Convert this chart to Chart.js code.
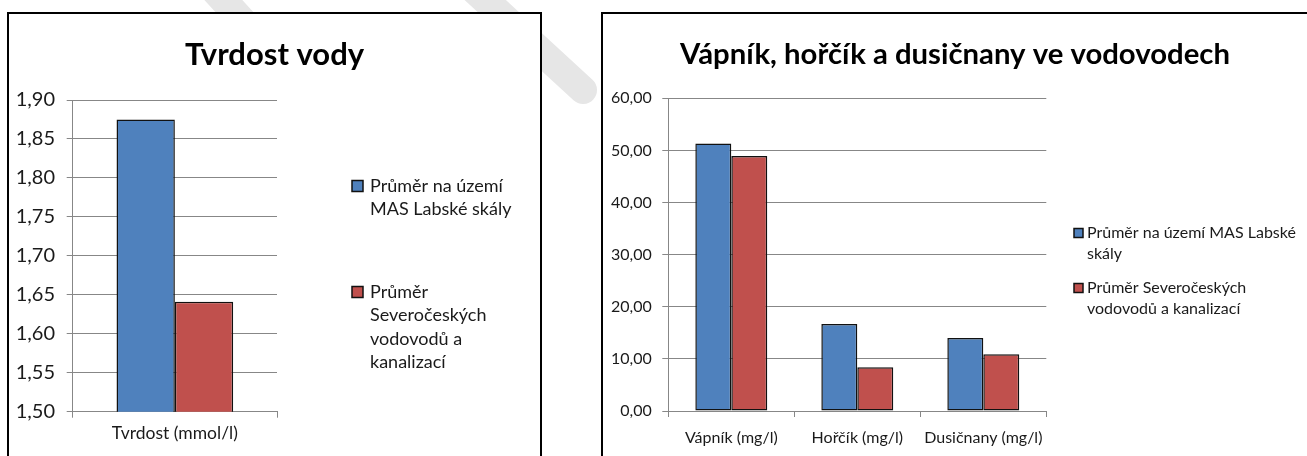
<!DOCTYPE html>
<html>
<head>
<meta charset="utf-8">
<script src="https://cdn.jsdelivr.net/npm/chart.js@4.4.1/dist/chart.umd.min.js"></script>
<style>
  html, body { margin: 0; padding: 0; background: #fff; width: 1307px; height: 456px; overflow: hidden; position: relative; }
  .mark { position: absolute; left: 0; top: 0; z-index: 0; }
  .panel { position: absolute; box-sizing: border-box; border: 2px solid #000; background: #fff; z-index: 1; }
  #boxA { left: 7px; top: 12px; width: 535px; height: 470px; }
  #boxB { left: 601px; top: 12px; width: 730px; height: 470px; }
  canvas { display: block; }
</style>
</head>
<body>
<svg class="mark" width="1307" height="456">
  <g stroke="#e6e6e6" stroke-width="28" stroke-linecap="round">
    <line x1="470" y1="-14" x2="583" y2="90"/>
    <line x1="205" y1="-20" x2="260" y2="40"/>
  </g>
</svg>
<div class="panel" id="boxA"><canvas id="hardness" width="531" height="442"></canvas></div>
<div class="panel" id="boxB"><canvas id="minerals" width="704" height="442"></canvas></div>
<script>
// Series shared by both charts
const seriesNames = ['Průměr na území MAS Labské skály', 'Průměr Severočeských vodovodů a kanalizací'];
const seriesColors = ['#4F81BD', '#C0504D'];

// Water hardness
const hardnessCategories = ['Tvrdost (mmol/l)'];
const hardnessMas = [1.875];
const hardnessSvs = [1.641];
const hardnessTicks = [1.50, 1.55, 1.60, 1.65, 1.70, 1.75, 1.80, 1.85, 1.90];
const hardnessTickLabels = ['1,50', '1,55', '1,60', '1,65', '1,70', '1,75', '1,80', '1,85', '1,90'];

// Calcium, magnesium and nitrates
const mineralCategories = ['Vápník (mg/l)', 'Hořčík (mg/l)', 'Dusičnany (mg/l)'];
const mineralMas = [51.3, 16.7, 14.0];
const mineralSvs = [48.9, 8.4, 10.9];
const mineralTicks = [0, 10, 20, 30, 40, 50, 60];
const mineralTickLabels = ['0,00', '10,00', '20,00', '30,00', '40,00', '50,00', '60,00'];

const FONT = 'Lato';
const GRID = '#878787';
const INK = '#1a1a1a';

// Legend with word-wrapped entries placed beside the plot
const wrappedLegend = {
  id: 'wrappedLegend',
  afterDraw(chart, args, o) {
    const ctx = chart.ctx;
    ctx.save();
    ctx.font = o.size + 'px ' + FONT;
    ctx.textBaseline = 'middle';
    ctx.textAlign = 'left';
    chart.data.datasets.forEach((ds, i) => {
      const words = ds.label.split(' ');
      const lines = [];
      let cur = '';
      words.forEach(w => {
        const t = cur ? cur + ' ' + w : w;
        if (cur && ctx.measureText(t).width > o.maxWidth) { lines.push(cur); cur = w; }
        else cur = t;
      });
      if (cur) lines.push(cur);
      const y0 = o.starts[i];
      ctx.fillStyle = ds.backgroundColor;
      ctx.fillRect(o.x, y0 - o.box / 2, o.box, o.box);
      ctx.lineWidth = 1.5;
      ctx.strokeStyle = '#111';
      ctx.strokeRect(o.x, y0 - o.box / 2, o.box, o.box);
      ctx.fillStyle = INK;
      lines.forEach((ln, k) => ctx.fillText(ln, o.textX, y0 + k * o.lineHeight));
    });
    ctx.restore();
  }
};

function buildChart(id, cfg) {
  return new Chart(document.getElementById(id), {
    type: 'bar',
    data: {
      labels: cfg.categories,
      datasets: [
        { label: seriesNames[0], data: cfg.mas, backgroundColor: seriesColors[0] },
        { label: seriesNames[1], data: cfg.svs, backgroundColor: seriesColors[1] }
      ]
    },
    options: {
      responsive: false,
      animation: false,
      events: [],
      layout: { padding: { left: 0, right: 0, top: 0, bottom: cfg.padBottom } },
      datasets: {
        bar: { borderColor: '#111', borderWidth: 1.5, borderSkipped: false, categoryPercentage: 0.571, barPercentage: 1 }
      },
      plugins: {
        legend: { display: false },
        tooltip: { enabled: false },
        title: {
          display: true, text: cfg.title, color: '#000',
          font: { family: FONT, weight: 'bold', size: cfg.titleSize, lineHeight: 1.2 },
          padding: cfg.titlePadding
        },
        wrappedLegend: cfg.legend
      },
      scales: {
        x: {
          afterFit: ax => { ax.height = cfg.xHeight; },
          grid: { drawOnChartArea: false, drawTicks: true, tickLength: 6, color: GRID, offset: true },
          border: { color: GRID, width: 1 },
          ticks: { color: INK, font: { family: FONT, size: cfg.xFont }, padding: cfg.xPad, maxRotation: 0 }
        },
        y: {
          min: cfg.ticks[0], max: cfg.ticks[cfg.ticks.length - 1],
          afterBuildTicks: ax => { ax.ticks = cfg.ticks.map(v => ({ value: v })); },
          afterFit: ax => { ax.width = cfg.yWidth; },
          grid: { color: GRID, tickLength: 6 },
          border: { color: GRID, width: 1 },
          ticks: { color: INK, font: { family: FONT, size: cfg.yFont }, padding: cfg.yPad,
                   callback: (v, i) => cfg.tickLabels[i] }
        },
        // empty column on the right that holds the legend
        side: {
          type: 'linear', position: 'right', display: true,
          grid: { display: false }, border: { display: false }, ticks: { display: false },
          afterFit: ax => { ax.width = cfg.sideWidth; }
        }
      }
    },
    plugins: [wrappedLegend]
  });
}

function draw() {
  buildChart('hardness', {
    categories: hardnessCategories, mas: hardnessMas, svs: hardnessSvs,
    ticks: hardnessTicks, tickLabels: hardnessTickLabels,
    title: 'Tvrdost vody', titleSize: 31, titlePadding: { top: 22.4, bottom: 26.4 },
    padBottom: 14.3, xHeight: 30, sideWidth: 263,
    yWidth: 63.7, yFont: 20, yPad: 11.7, xFont: 17.5, xPad: 4.8,
    legend: { x: 343, textX: 361, box: 11, size: 18, lineHeight: 23.5, maxWidth: 150, starts: [172, 278] }
  });
  buildChart('minerals', {
    categories: mineralCategories, mas: mineralMas, svs: mineralSvs,
    ticks: mineralTicks, tickLabels: mineralTickLabels,
    title: 'Vápník, hořčík a dusičnany ve vodovodech', titleSize: 29.3, titlePadding: { top: 23.4, bottom: 25.7 },
    padBottom: 9, xHeight: 36, sideWidth: 260.7,
    yWidth: 65.3, yFont: 16, yPad: 10.6, xFont: 16, xPad: 11.4,
    legend: { x: 471, textX: 484, box: 9, size: 16, lineHeight: 21, maxWidth: 220, starts: [219, 274] }
  });
}

Promise.all([
  document.fonts.load('16px Lato'),
  document.fonts.load('bold 30px Lato')
]).then(draw, draw);
</script>
</body>
</html>
